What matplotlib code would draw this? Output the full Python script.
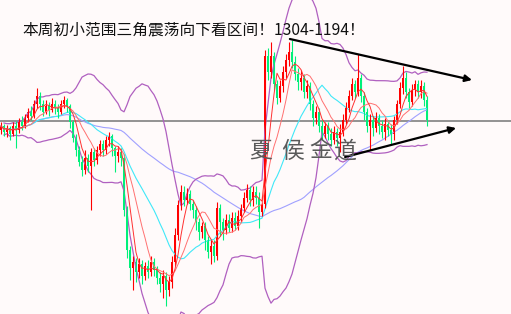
import matplotlib.pyplot as plt
import numpy as np
import pandas as pd

plt.rcParams['font.family'] = ['Noto Sans CJK SC', 'DejaVu Sans']

titulo = '本周初小范围三角震荡向下看区间！1304-1194！'
marca = '夏侯金道'

# velas (nivel de precio)
apertura = [190, 194, 188, 192, 186, 194, 190, 198, 194, 202,
            208, 204, 216, 224, 216, 208, 214, 210, 216, 212,
            208, 216, 220, 214, 198, 182, 170, 158, 150, 162,
            154, 168, 160, 170, 176, 170, 180, 184, 172, 164,
            168, 162, 110, 70, 52, 58, 48, 56, 44, 54,
            48, 58, 50, 42, 36, 44, 30, 38, 58, 85,
            115, 128, 120, 126, 116, 110, 98, 88, 94, 80,
            68, 74, 64, 112, 98, 90, 100, 92, 102, 94,
            104, 112, 122, 130, 120, 128, 122, 108, 116, 264,
            248, 264, 236, 222, 234, 248, 260, 268, 258, 246,
            238, 242, 228, 234, 216, 202, 208, 194, 186, 194,
            186, 180, 188, 182, 188, 200, 212, 224, 236, 228,
            242, 224, 208, 194, 200, 192, 202, 194, 188, 196,
            190, 186, 200, 216, 232, 242, 228, 218, 230, 236,
            228, 234, 220]
maximo = [198, 196, 195, 194, 198, 199, 202, 204, 206, 212,
          214, 220, 232, 228, 220, 220, 218, 222, 220, 216,
          220, 224, 222, 216, 200, 186, 174, 164, 170, 166,
          172, 172, 174, 180, 180, 184, 188, 186, 174, 174,
          172, 166, 114, 74, 64, 62, 62, 60, 58, 60,
          64, 62, 54, 48, 50, 48, 44, 64, 92, 120,
          135, 134, 132, 130, 120, 114, 102, 98, 98, 84,
          80, 80, 118, 116, 102, 106, 106, 108, 108, 110,
          116, 128, 136, 134, 134, 134, 128, 124, 270, 272,
          278, 268, 240, 240, 254, 266, 278, 280, 264, 252,
          250, 246, 240, 238, 220, 214, 212, 200, 198, 198,
          192, 194, 192, 196, 206, 218, 230, 242, 240, 266,
          246, 228, 212, 206, 204, 208, 206, 200, 202, 200,
          196, 204, 220, 238, 254, 248, 232, 236, 240, 240,
          240, 238, 224]
minimo = [186, 184, 183, 180, 184, 172, 187, 190, 192, 198,
          200, 202, 212, 210, 204, 206, 204, 208, 206, 202,
          206, 212, 208, 192, 178, 164, 154, 144, 146, 148,
          110, 154, 156, 164, 164, 166, 174, 164, 148, 158,
          154, 104, 62, 40, 30, 38, 42, 36, 40, 42,
          44, 44, 36, 28, 22, 14, 24, 32, 54, 80,
          110, 114, 116, 110, 102, 90, 80, 82, 70, 62,
          56, 58, 60, 84, 80, 86, 88, 88, 90, 90,
          98, 108, 118, 114, 114, 116, 92, 104, 112, 240,
          242, 230, 216, 218, 228, 242, 254, 252, 240, 230,
          230, 222, 222, 210, 194, 196, 188, 180, 182, 180,
          174, 176, 174, 168, 184, 196, 208, 220, 222, 224,
          218, 200, 188, 170, 184, 188, 186, 182, 180, 184,
          176, 180, 196, 212, 226, 222, 212, 214, 224, 222,
          222, 214, 194]
cierre = [194, 188, 192, 186, 194, 190, 198, 194, 202, 208,
          204, 216, 224, 216, 208, 214, 210, 216, 212, 208,
          216, 220, 214, 198, 182, 170, 158, 150, 162, 154,
          168, 160, 170, 176, 170, 180, 184, 172, 164, 168,
          162, 110, 70, 52, 58, 48, 56, 44, 54, 48,
          58, 50, 42, 36, 44, 30, 38, 58, 85, 115,
          128, 120, 126, 116, 110, 98, 88, 94, 80, 68,
          74, 64, 112, 98, 90, 100, 92, 102, 94, 104,
          112, 122, 130, 120, 128, 122, 108, 116, 264, 248,
          264, 236, 222, 234, 248, 260, 268, 258, 246, 238,
          242, 228, 234, 216, 202, 208, 194, 186, 194, 186,
          180, 188, 182, 188, 200, 212, 224, 236, 228, 242,
          224, 208, 194, 200, 192, 202, 194, 188, 196, 190,
          186, 200, 216, 232, 242, 228, 218, 230, 236, 228,
          234, 220, 200]

# lineas de tendencia (x en velas, y en nivel) y soporte horizontal
tendencia_sup = ([96.3, 157.0], [281, 240])
tendencia_inf = ([114.7, 151.7], [163, 192])
nivel_horizontal = 199


def velas(ax, o, h, l, c):
    o, h, l, c = map(np.array, (o, h, l, c))
    x = np.arange(len(c))
    colores = np.where(c >= o, '#ff0000', '#00f07a')
    ax.vlines(x, l, h, colors=colores, lw=0.8)
    alto = np.maximum(np.abs(c - o), 1.2)
    ax.bar(x, alto, bottom=np.minimum(o, c), width=0.6,
           color=colores, linewidth=0)


fig = plt.figure(figsize=(5.11, 3.14), dpi=100, facecolor='#fffafa')
ax = fig.add_axes([0, 0, 1, 1])
ax.set_facecolor('#fffafa')

serie = pd.Series(cierre, dtype=float)
ma5 = serie.rolling(5, min_periods=1).mean()
ma10 = serie.rolling(10, min_periods=1).mean()
ma20 = serie.rolling(20, min_periods=1).mean()
ma60 = serie.rolling(60, min_periods=1).mean()
std20 = serie.rolling(20, min_periods=2).std(ddof=0)
x = np.arange(len(serie))

ax.axhline(nivel_horizontal, color='#808080', lw=1.2, zorder=1)
ax.plot(x, ma60, color='#a0a0ff', lw=0.8, zorder=2)
ax.plot(x, ma20, color='#40e8f8', lw=0.8, zorder=2)
ax.plot(x, ma20 + 2 * std20, color='#b060c0', lw=0.9, zorder=2)
ax.plot(x, ma20 - 2 * std20, color='#b060c0', lw=0.9, zorder=2)
velas(ax, apertura, maximo, minimo, cierre)
ax.plot(x, ma10, color='#ff7070', lw=0.7, zorder=4)
ax.plot(x, ma5, color='#ff3030', lw=0.7, zorder=4)

for xs, ys in (tendencia_sup, tendencia_inf):
    ax.annotate('', xy=(xs[1], ys[1]), xytext=(xs[0], ys[0]),
                arrowprops=dict(arrowstyle='-|>', color='black', lw=1.6,
                                mutation_scale=10, shrinkA=0, shrinkB=0),
                zorder=6)

ax.set_xlim(-1 / 3, 170)
ax.set_ylim(6, 320)
ax.axis('off')

fig.text(22 / 511, 1 - 30 / 314, titulo, fontsize=11.3, color='#111111',
         ha='left', va='center')
for letra, px in zip(marca, [249, 281, 309, 333]):
    fig.text(px / 511, 1 - 151 / 314, letra, fontsize=16.5, color='#5a5a5a',
             ha='left', va='center', zorder=7)

fig.savefig('out.png', dpi=100, facecolor=fig.get_facecolor())
